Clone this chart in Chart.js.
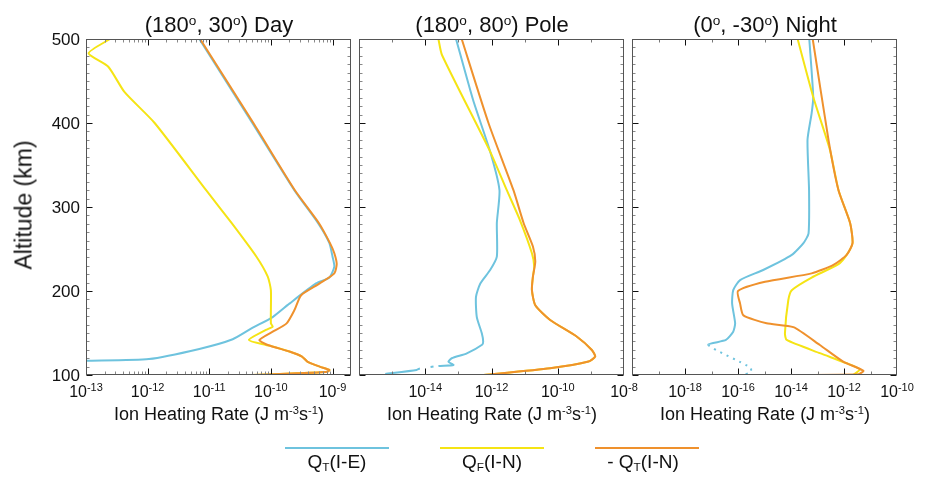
<!DOCTYPE html>
<html>
<head>
<meta charset="utf-8">
<script src="https://cdn.jsdelivr.net/npm/chart.js@4.4.1/dist/chart.umd.min.js"></script>
<style>
    body { margin: 0; background: #fff; }
    #wrap { position: relative; width: 925px; height: 481px; overflow: hidden; font-family: "Liberation Sans", Arial, Helvetica, sans-serif; color: #111; }
    #wrap canvas { position: absolute; left: 0; top: 0; }
    .txt { position: absolute; white-space: nowrap; line-height: 1; transform: translateX(-50%); }
    .title { font-size: 22px; top: 14px; }
    .xtitle { font-size: 18px; top: 405px; }
    .sup { position: relative; font-size: 0.62em; top: -0.5em; }
    .sub { position: relative; font-size: 0.62em; top: 0.25em; }
    .ytitle { position: absolute; left: 24px; top: 205px; font-size: 23px; line-height: 1; white-space: nowrap; transform: translate(-50%, -50%) rotate(-90deg); }
    .leg-line { position: absolute; top: 447px; height: 2px; width: 104px; }
    .leg-txt { font-size: 19px; top: 452px; }
</style>
</head>
<body>
<div id="wrap">
    <canvas id="dayChart" width="925" height="481"></canvas>
    <canvas id="poleChart" width="925" height="481"></canvas>
    <canvas id="nightChart" width="925" height="481"></canvas>

    <div class="txt title" style="left:219px">(180<span class="sup">o</span>, 30<span class="sup">o</span>) Day</div>
    <div class="txt title" style="left:492px">(180<span class="sup">o</span>, 80<span class="sup">o</span>) Pole</div>
    <div class="txt title" style="left:765px">(0<span class="sup">o</span>, -30<span class="sup">o</span>) Night</div>

    <div class="ytitle">Altitude (km)</div>

    <div class="txt xtitle" style="left:219px">Ion Heating Rate (J m<span class="sup">-3</span>s<span class="sup">-1</span>)</div>
    <div class="txt xtitle" style="left:492px">Ion Heating Rate (J m<span class="sup">-3</span>s<span class="sup">-1</span>)</div>
    <div class="txt xtitle" style="left:765px">Ion Heating Rate (J m<span class="sup">-3</span>s<span class="sup">-1</span>)</div>

    <div class="leg-line" style="left:285px; background:#6ec3de"></div>
    <div class="leg-line" style="left:440px; background:#f5e414"></div>
    <div class="leg-line" style="left:595px; background:#ef912d"></div>
    <div class="txt leg-txt" style="left:337px">Q<span class="sub">T</span>(I-E)</div>
    <div class="txt leg-txt" style="left:492px">Q<span class="sub">F</span>(I-N)</div>
    <div class="txt leg-txt" style="left:643px">- Q<span class="sub">T</span>(I-N)</div>
</div>

<script>
/* ==========================================================
   1. DATA (altitude in km, heating rate in J m^-3 s^-1)
   ========================================================== */
// (180, 30) Day
const dayAltQtIE = [500, 400, 320, 281, 257, 241, 229, 216, 209, 185, 169, 156, 142.5, 131, 119, 117, 115];
const dayQtIE    = [6.9e-12, 5.0e-11, 2.4e-10, 5.8e-10, 8.9e-10, 1.0e-9, 1.07e-9, 8.9e-10, 5.4e-10, 2.0e-10, 1.07e-10, 5.0e-11, 2.4e-11, 6.9e-12, 1.05e-12, 1.0e-13, 1.0e-14];
const dayAltQfIN = [500, 483, 467, 437, 400, 320, 281, 241, 217, 201, 161.5, 157.5, 153.6, 141.7, 135.7, 134.5, 128, 122, 116, 110, 106, 104, 102, 100];
const dayQfIN    = [2.45e-13, 1.1e-13, 2.3e-13, 4.2e-13, 1.3e-12, 8.9e-12, 2.3e-11, 5.8e-11, 8.9e-11, 1.0e-10, 1.0e-10, 1.07e-10, 8.3e-11, 4.4e-11, 8.3e-11, 1.0e-10, 2.0e-10, 3.2e-10, 3.9e-10, 6.2e-10, 8.9e-10, 8.3e-10, 2.6e-10, 5.0e-11];
const dayAltQtIN = [500, 400, 320, 281, 257, 245, 232, 221, 209, 195, 177, 161.5, 151.6, 141.7, 135.7, 128, 122, 116, 110, 106, 104, 102, 100];
const dayQtIN    = [7.1e-12, 5.2e-11, 2.45e-10, 6.0e-10, 9.1e-10, 1.07e-9, 1.17e-9, 1.07e-9, 6.2e-10, 3.1e-10, 2.4e-10, 1.8e-10, 1.07e-10, 6.5e-11, 8.9e-11, 2.0e-10, 3.2e-10, 3.9e-10, 6.2e-10, 8.9e-10, 8.3e-10, 2.6e-10, 5.0e-11];

// (180, 80) Pole
const poleAltQtIE = [500, 427, 366, 320, 281, 241, 225, 209, 193, 169, 149.6, 140, 136, 125.8, 119.9, 115.8, 111.9, 110.7, 107.7, 106, 101.2];
const poleQtIE    = [8.5e-14, 2.8e-13, 9.1e-13, 1.74e-12, 1.45e-12, 1.45e-12, 9.1e-13, 4.6e-13, 3.4e-13, 3.6e-13, 5.1e-13, 5.6e-13, 5.2e-13, 1.8e-13, 6.3e-14, 5.0e-14, 7.1e-14, 2.5e-14, 6.9e-15, 5.5e-15, 6.2e-16];
const poleAltQfIN = [500, 481, 366, 320, 284.5, 245, 229, 217, 201, 183, 165.5, 145.6, 129.8, 122, 116, 108, 100];
const poleQfIN    = [2.5e-14, 3.2e-14, 9.1e-13, 2.9e-12, 7.2e-12, 1.66e-11, 1.95e-11, 1.78e-11, 1.66e-11, 2.1e-11, 5.9e-11, 3.8e-10, 1.07e-9, 1.35e-9, 8.5e-10, 5.9e-11, 5.8e-13];
const poleAltQtIN = [500, 400, 320, 281, 253, 235, 217, 201, 183, 165.5, 145.6, 129.8, 122, 116, 108, 100];
const poleQtIN    = [1.26e-13, 8.1e-13, 4.6e-12, 9.3e-12, 1.78e-11, 2.1e-11, 1.78e-11, 1.66e-11, 2.1e-11, 5.9e-11, 3.8e-10, 1.07e-9, 1.35e-9, 8.5e-10, 5.9e-11, 5.8e-13];

// (0, -30) Night
const nightAltQtIE = [500, 431, 411.5, 380, 320, 268.7, 257, 243, 225, 213, 201, 185, 161.5, 151.6, 141.7, 135.7, 108.7, 103, 100.8];
const nightQtIE    = [4.9e-14, 6.9e-14, 6.0e-14, 4.2e-14, 4.8e-14, 4.6e-14, 2.95e-14, 1.07e-14, 8.9e-16, 1.2e-16, 6.6e-17, 6.0e-17, 7.8e-17, 6.6e-17, 3.5e-17, 7.6e-18, 3.0e-16, 3.0e-16, 1.8e-16];
const nightAltQfIN = [500, 431, 368, 320, 281, 257, 243, 232, 216, 201, 189, 149.6, 141.7, 126, 114, 106.7, 100];
const nightQfIN    = [1.78e-14, 6.9e-14, 2.95e-13, 6.2e-13, 1.7e-12, 2.1e-12, 1.26e-12, 6.2e-13, 6.0e-14, 1.07e-14, 7.9e-15, 5.9e-15, 6.9e-15, 1.23e-13, 1.26e-12, 4.0e-12, 2.2e-12];
const nightAltQtIN = [500, 380, 320, 281, 257, 243, 231, 221, 211, 200, 185, 171, 161.5, 157, 135.7, 116, 105, 101, 100];
const nightQtIN    = [6.6e-14, 2.6e-13, 6.2e-13, 1.7e-12, 2.1e-12, 1.26e-12, 4.0e-13, 6.0e-14, 1.05e-15, 1.0e-16, 1.2e-16, 1.6e-16, 1.2e-15, 1.23e-14, 1.23e-13, 9.3e-13, 5.4e-12, 3.5e-12, 5.1e-15];

// tick labels (powers of ten) and altitude labels
const dayTickExps   = [-13, -12, -11, -10, -9];
const poleTickExps  = [-14, -12, -10, -8];
const nightTickExps = [-18, -16, -14, -12, -10];
const altTicks = [100, 200, 300, 400, 500];

/* ==========================================================
   2. HELPERS
   ========================================================== */
const BLUE = '#6ec3de', YELLOW = '#f5e414', ORANGE = '#ef912d';
const FONT = '"Liberation Sans", Arial, Helvetica, sans-serif';

function toPoints(alts, vals) {
    return alts.map((a, i) => ({ x: vals[i], y: a }));
}

function profile(alts, vals, color, order, extra) {
    return Object.assign({
        data: toPoints(alts, vals),
        borderColor: color,
        backgroundColor: color,
        borderWidth: 2,
        pointRadius: 0,
        tension: 0.2,
        fill: false,
        order: order
    }, extra || {});
}

// frame, inward ticks and power-of-ten labels drawn from the scales
const axisFrame = {
    id: 'axisFrame',
    afterDraw(chart, args, opts) {
        const { ctx, chartArea: a, scales: { x, y } } = chart;
        const L = Math.round(a.left) + 0.5, R = Math.round(a.right) - 0.5;
        const T = Math.round(a.top) + 0.5, B = Math.round(a.bottom) - 0.5;
        ctx.save();
        ctx.lineWidth = 1;

        const vTick = (v, len, col) => {
            const px = Math.round(x.getPixelForValue(v)) + 0.5;
            if (px < L - 0.1 || px > R + 0.1) return;
            ctx.strokeStyle = col;
            ctx.beginPath();
            ctx.moveTo(px, B); ctx.lineTo(px, B - len);
            ctx.moveTo(px, T); ctx.lineTo(px, T + len);
            ctx.stroke();
        };
        const hTick = (v, len, col) => {
            const py = Math.round(y.getPixelForValue(v)) + 0.5;
            ctx.strokeStyle = col;
            ctx.beginPath();
            ctx.moveTo(L, py); ctx.lineTo(L + len, py);
            ctx.moveTo(R, py); ctx.lineTo(R - len, py);
            ctx.stroke();
        };

        // x minor ticks
        const lo = Math.floor(Math.log10(x.min)), hi = Math.ceil(Math.log10(x.max));
        for (let e = lo; e <= hi; e++) {
            if (opts.logMinor) {
                for (let m = 2; m <= 9; m++) vTick(m * Math.pow(10, e), 3, '#888');
            } else {
                vTick(Math.pow(10, e), 3, '#777');
            }
        }
        opts.exps.forEach(e => vTick(Math.pow(10, e), 6, '#111'));

        // y ticks every 10 km
        for (let h = 110; h < 500; h += 10) {
            if (h % 100 !== 0) hTick(h, 3, '#888');
        }
        altTicks.forEach(h => hTick(h, 6, '#111'));

        // frame
        ctx.strokeStyle = '#555';
        ctx.strokeRect(L, T, R - L, B - T);

        // x labels: 10^n
        ctx.fillStyle = '#111';
        ctx.textBaseline = 'alphabetic';
        opts.exps.forEach(e => {
            const px = x.getPixelForValue(Math.pow(10, e));
            ctx.font = '16px ' + FONT;
            const w1 = ctx.measureText('10').width;
            ctx.font = '11px ' + FONT;
            const w2 = ctx.measureText(String(e)).width;
            const start = px - (w1 + w2) / 2;
            ctx.textAlign = 'left';
            ctx.font = '16px ' + FONT;
            ctx.fillText('10', start, 397);
            ctx.font = '11px ' + FONT;
            ctx.fillText(String(e), start + w1, 391);
        });

        // altitude labels on the first panel only
        if (opts.altLabels) {
            ctx.font = '17px ' + FONT;
            ctx.textAlign = 'right';
            altTicks.forEach(h => {
                ctx.fillText(String(h), a.left - 6, y.getPixelForValue(h) + 6);
            });
        }
        ctx.restore();
    }
};

function makePanel(id, left, right, xMin, xMax, datasets, axisOpts) {
    return new Chart(document.getElementById(id), {
        type: 'line',
        data: { datasets: datasets },
        options: {
            responsive: false,
            animation: false,
            devicePixelRatio: 1,
            layout: { padding: { left: left, right: 925 - right, top: 39, bottom: 481 - 375 } },
            scales: {
                x: { type: 'logarithmic', display: false, min: xMin, max: xMax },
                y: { type: 'linear', display: false, min: 100, max: 500 }
            },
            plugins: {
                legend: { display: false },
                tooltip: { enabled: false },
                axisFrame: axisOpts
            }
        },
        plugins: [axisFrame]
    });
}

/* ==========================================================
   3. PANELS
   ========================================================== */
makePanel('dayChart', 86, 351, 1e-13, Math.pow(10, -8.7), [
    profile(dayAltQtIN, dayQtIN, ORANGE, 0),
    profile(dayAltQfIN, dayQfIN, YELLOW, 1),
    profile(dayAltQtIE, dayQtIE, BLUE, 2)
], { exps: dayTickExps, logMinor: true, altLabels: true });

// dash-dot gap in the low-altitude blue curve
const poleGapIndex = 17;
makePanel('poleChart', 359, 624, 1e-16, 1e-8, [
    profile(poleAltQtIN, poleQtIN, ORANGE, 0),
    profile(poleAltQfIN, poleQfIN, YELLOW, 1),
    profile(poleAltQtIE, poleQtIE, BLUE, 2, {
        segment: {
            borderDash: c => c.p0DataIndex === poleGapIndex ? [3, 15] : undefined,
            borderDashOffset: c => c.p0DataIndex === poleGapIndex ? 13 : undefined
        }
    })
], { exps: poleTickExps, logMinor: false, altLabels: false });

// dotted part of the blue curve below 136 km
const nightDotFrom = 15;
makePanel('nightChart', 632, 897, 1e-20, 1e-10, [
    profile(nightAltQtIN, nightQtIN, ORANGE, 0),
    profile(nightAltQfIN, nightQfIN, YELLOW, 1),
    profile(nightAltQtIE, nightQtIE, BLUE, 2, {
        segment: {
            borderDash: c => c.p0DataIndex >= nightDotFrom ? [2, 5] : undefined
        }
    })
], { exps: nightTickExps, logMinor: false, altLabels: false });
</script>
</body>
</html>
